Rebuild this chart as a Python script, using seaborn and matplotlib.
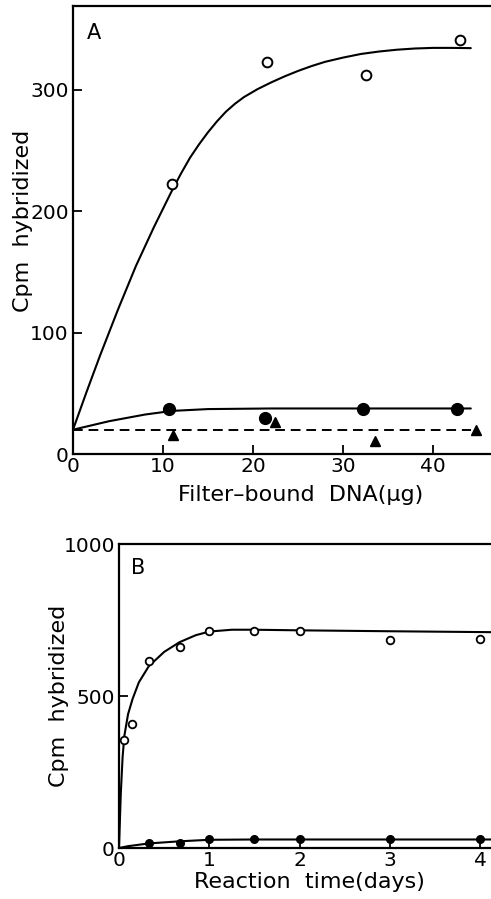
import seaborn as sns
import matplotlib
matplotlib.use("Agg")
import matplotlib.pyplot as plt

# panel A: filter-bound DNA (ug) vs cpm hybridized
a_dna_open = [11.0, 21.6, 32.5, 43.0]
a_cpm_open = [222, 323, 312, 341]
a_dna_filled = [10.7, 21.3, 32.2, 42.7]
a_cpm_filled = [37, 30, 37, 37]
a_dna_tri = [11.1, 22.4, 33.6, 44.8]
a_cpm_tri = [16, 26, 11, 20]
# fitted curves
a_fit_open_x = [0, 1.5, 3, 5, 7, 9, 11, 12, 13, 14, 15, 16, 17, 18, 19, 20.5, 22, 23.5, 25,
                26.5, 28, 30, 32, 34, 36, 38, 40, 42, 44.2]
a_fit_open_y = [20, 51, 81, 119, 155, 187, 217, 231, 244, 255, 265, 274, 282, 288.5, 294, 300.5,
                306, 311, 315.5, 319.5, 323, 326.5, 329.5, 331.5, 333, 334, 334.5, 334.5, 334.3]
a_fit_filled_x = [0, 4, 8, 11, 15, 22, 32, 44.2]
a_fit_filled_y = [20, 27, 32.5, 35.5, 37, 37.5, 37.5, 37.5]
a_base_x = [0, 44.2]
a_base_y = [20, 20]

# panel B: reaction time (days) vs cpm hybridized
b_days_open = [0.06, 0.14, 0.33, 0.67, 1.0, 1.5, 2.0, 3.0, 4.0]
b_cpm_open = [355, 408, 615, 662, 714, 715, 714, 684, 686]
b_days_filled = [0.33, 0.67, 1.0, 1.5, 2.0, 3.0, 4.0]
b_cpm_filled = [16, 18, 28, 28, 28, 28, 28]
b_fit_open_x = [0, 0.02, 0.04, 0.06, 0.1, 0.15, 0.22, 0.33, 0.5, 0.67, 0.85, 1.0, 1.25, 1.5, 2, 3, 4.12]
b_fit_open_y = [0, 180, 300, 370, 440, 490, 545, 598, 645, 677, 700, 712, 718, 718, 716, 713, 710]
b_fit_filled_x = [0, 0.1, 0.33, 0.67, 1.0, 1.5, 2, 3, 4.12]
b_fit_filled_y = [0, 6, 15, 22, 27, 28, 28, 28, 28]

sns.set_style("ticks")
plt.rcParams['font.family'] = ['DejaVu Sans']
plt.rcParams['font.size'] = 14.5
plt.rcParams['text.color'] = 'black'
plt.rcParams['axes.labelcolor'] = 'black'

fig = plt.figure(figsize=(4.91, 8.99), dpi=100)
axA = fig.add_axes([73/491, 1-454/899, 1-73/491, 448/899])
axB = fig.add_axes([119/491, 1-848/899, 1-119/491, 304/899])

lw = 1.5
# --- A
sns.lineplot(x=a_fit_open_x, y=a_fit_open_y, ax=axA, color='black', lw=lw, sort=False, estimator=None)
sns.lineplot(x=a_fit_filled_x, y=a_fit_filled_y, ax=axA, color='black', lw=lw, sort=False, estimator=None)
sns.lineplot(x=a_base_x, y=a_base_y, ax=axA, color='black', lw=1.4, linestyle=(0, (5, 3)), estimator=None)
axA.plot(a_dna_open, a_cpm_open, 'o', ms=7, mfc='white', mec='black', mew=1.4, zorder=4)
axA.plot(a_dna_filled, a_cpm_filled, 'o', ms=8.5, color='black', zorder=4)
axA.plot(a_dna_tri, a_cpm_tri, '^', ms=7.5, color='black', zorder=4)
axA.set_xlim(0, (491-73)/9)
axA.set_ylim(0, 369)
axA.set_xticks([0, 10, 20, 30, 40])
axA.set_yticks([0, 100, 200, 300])
axA.set_ylabel("Cpm  hybridized")
axA.set_xlabel("Filter\u2013bound  DNA(\u00b5g)")
axA.xaxis.set_label_coords((301-73)/418, -0.069)
axA.yaxis.set_label_coords(-0.096, 0.52)
axA.text(0.05, 0.94, "A", transform=axA.transAxes, fontsize=15, va='center', ha='center')

# --- B
sns.lineplot(x=b_fit_open_x, y=b_fit_open_y, ax=axB, color='black', lw=lw, sort=False, estimator=None)
sns.lineplot(x=b_fit_filled_x, y=b_fit_filled_y, ax=axB, color='black', lw=lw, sort=False, estimator=None)
axB.plot(b_days_open, b_cpm_open, 'o', ms=5.5, mfc='white', mec='black', mew=1.3, zorder=4)
axB.plot(b_days_filled, b_cpm_filled, 'o', ms=5.5, color='black', zorder=4)
axB.set_xlim(0, (491-119)/90.3)
axB.set_ylim(0, 1000)
axB.set_xticks([0, 1, 2, 3, 4])
axB.set_yticks([0, 500, 1000])
axB.set_ylabel("Cpm  hybridized")
axB.set_xlabel("Reaction  time(days)")
axB.xaxis.set_label_coords((309-119)/372, -0.079)
axB.yaxis.set_label_coords(-0.135, 0.5)
axB.text(0.052, 0.921, "B", transform=axB.transAxes, fontsize=15, va='center', ha='center')

for ax in (axA, axB):
    ax.spines['right'].set_visible(False)
    for s in ('left', 'bottom', 'top'):
        ax.spines[s].set_linewidth(1.6)
        ax.spines[s].set_color('black')
    ax.tick_params(direction='in', length=6.5, width=1.3, colors='black', labelsize=14.5)
    ax.tick_params(axis='x', pad=2)
    ax.tick_params(axis='y', pad=3)
    ax.xaxis.label.set_size(16)
    ax.yaxis.label.set_size(16)
    ax.set_facecolor('white')

fig.savefig("out.png", dpi=100, facecolor='white')
